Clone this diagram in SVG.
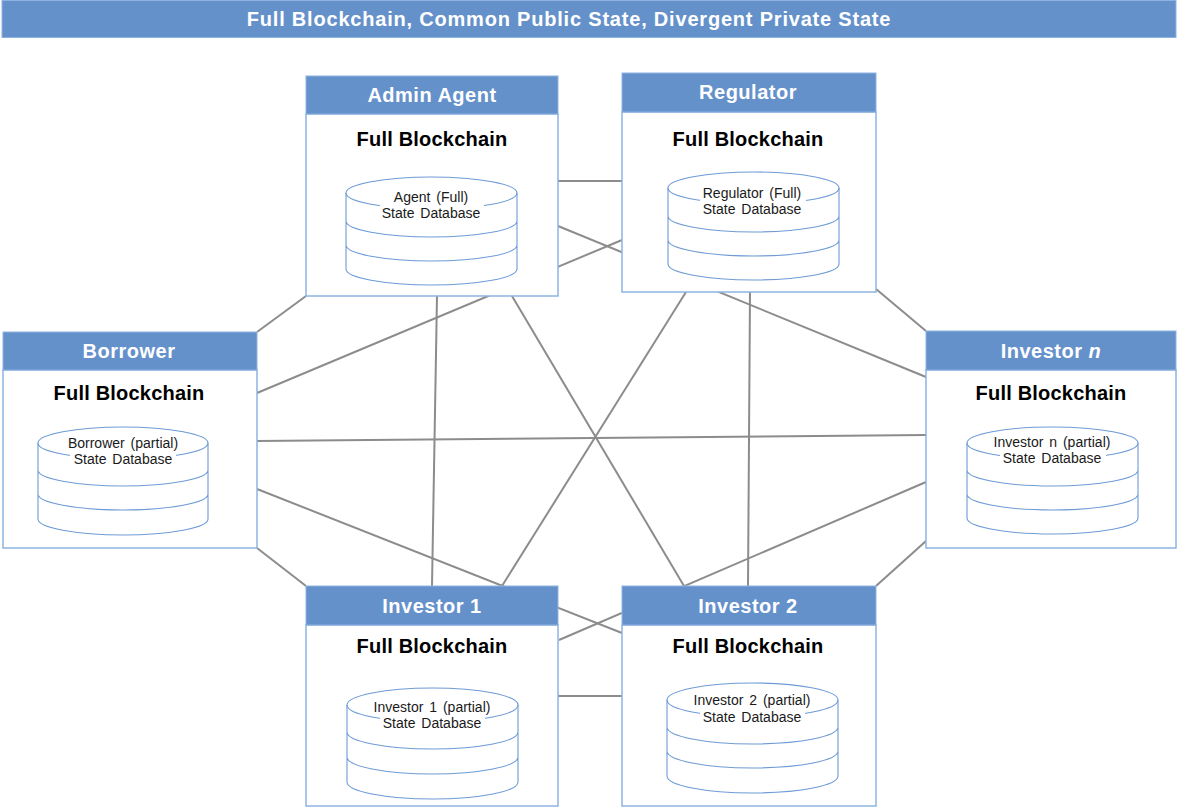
<svg xmlns="http://www.w3.org/2000/svg" width="1178" height="811" viewBox="0 0 1178 811">
<style>
.hdr{fill:#6591CB;stroke:#8DB3E2;stroke-width:1}
.body{fill:#fff;stroke:#8DB4E2;stroke-width:1.5}
.cyl{fill:none;stroke:#6E9BD6;stroke-width:1.1}
.gap{fill:#fff}
.ht{font-family:"Liberation Sans",Arial,sans-serif;font-weight:bold;font-size:20px;fill:#fff;text-anchor:middle;letter-spacing:0.5px}
.tt{letter-spacing:0.8px}
.fb{font-family:"Liberation Sans",Arial,sans-serif;font-weight:bold;font-size:20px;fill:#000;text-anchor:middle;letter-spacing:0.2px}
.dt{font-family:"Liberation Sans",Arial,sans-serif;font-size:14px;fill:#1a1a1a;text-anchor:middle;word-spacing:2px}
.conn line{stroke:#8C8C8C;stroke-width:2}
</style>
<rect x="2" y="0.5" width="1174" height="37" fill="#6591CB" stroke="#8DB3E2" stroke-width="1"/>
<text x="569" y="26" class="ht tt">Full Blockchain, Common Public State, Divergent Private State</text>
<g id="connectors" class="conn">
<line x1="558" y1="181" x2="622" y2="181"/>
<line x1="257" y1="332" x2="306" y2="296"/>
<line x1="437" y1="296" x2="432" y2="586"/>
<line x1="512" y1="296" x2="684" y2="586"/>
<line x1="558" y1="226" x2="926" y2="377"/>
<line x1="622" y1="240" x2="257" y2="393"/>
<line x1="686" y1="292" x2="502" y2="586"/>
<line x1="750" y1="292" x2="748" y2="586"/>
<line x1="876" y1="289" x2="926" y2="331"/>
<line x1="257" y1="548" x2="306" y2="586"/>
<line x1="257" y1="489" x2="622" y2="633"/>
<line x1="257" y1="441" x2="926" y2="435"/>
<line x1="558" y1="696" x2="622" y2="696"/>
<line x1="559" y1="640" x2="926" y2="482"/>
<line x1="876" y1="586" x2="926" y2="541"/>
</g>
<g id="admin">
<rect x="306" y="114" width="252" height="182" class="body"/>
<rect x="306" y="76" width="252" height="38" class="hdr"/>
<text x="432" y="102" class="ht">Admin Agent</text>
<text x="432" y="146" class="fb">Full Blockchain</text>
<ellipse cx="431.5" cy="193" rx="85.5" ry="16" class="cyl"/>
<path class="cyl" d="M346,193V269M517,193V269M346,221A85.5,16 0 0 0 517,221M346,245A85.5,16 0 0 0 517,245M346,269A85.5,16 0 0 0 517,269"/>
<rect x="380" y="204" width="104" height="18" class="gap"/>
<text x="431" y="202" class="dt">Agent (Full)</text>
<text x="431" y="218" class="dt">State Database</text>
</g>
<g id="regulator">
<rect x="622" y="112" width="254" height="180" class="body"/>
<rect x="622" y="73" width="254" height="39" class="hdr"/>
<text x="748" y="99" class="ht">Regulator</text>
<text x="748" y="146" class="fb">Full Blockchain</text>
<ellipse cx="753.5" cy="188" rx="85.5" ry="16" class="cyl"/>
<path class="cyl" d="M668,188V264M839,188V264M668,216A85.5,16 0 0 0 839,216M668,240A85.5,16 0 0 0 839,240M668,264A85.5,16 0 0 0 839,264"/>
<rect x="700" y="200" width="106" height="18" class="gap"/>
<text x="752" y="198" class="dt">Regulator (Full)</text>
<text x="752" y="214" class="dt">State Database</text>
</g>
<g id="borrower">
<rect x="3" y="370" width="254" height="178" class="body"/>
<rect x="3" y="332" width="254" height="38" class="hdr"/>
<text x="129" y="358" class="ht">Borrower</text>
<text x="129" y="400" class="fb">Full Blockchain</text>
<ellipse cx="123" cy="443" rx="85" ry="16" class="cyl"/>
<path class="cyl" d="M38,443V519M208,443V519M38,470A85,16 0 0 0 208,470M38,494A85,16 0 0 0 208,494M38,519A85,16 0 0 0 208,519"/>
<rect x="70" y="450" width="106" height="18" class="gap"/>
<text x="123" y="448" class="dt">Borrower (partial)</text>
<text x="123" y="464" class="dt">State Database</text>
</g>
<g id="investor-n">
<rect x="926" y="370" width="250" height="178" class="body"/>
<rect x="926" y="331" width="250" height="39" class="hdr"/>
<text x="1051" y="358" class="ht">Investor <tspan font-style="italic">n</tspan></text>
<text x="1051" y="400" class="fb">Full Blockchain</text>
<ellipse cx="1052.5" cy="443" rx="85.5" ry="16" class="cyl"/>
<path class="cyl" d="M967,443V518M1138,443V518M967,470A85.5,16 0 0 0 1138,470M967,494A85.5,16 0 0 0 1138,494M967,518A85.5,16 0 0 0 1138,518"/>
<rect x="1000" y="449" width="106" height="18" class="gap"/>
<text x="1052" y="447" class="dt">Investor n (partial)</text>
<text x="1052" y="463" class="dt">State Database</text>
</g>
<g id="investor-1">
<rect x="306" y="625" width="252" height="181" class="body"/>
<rect x="306" y="586" width="252" height="39" class="hdr"/>
<text x="432" y="613" class="ht">Investor 1</text>
<text x="432" y="653" class="fb">Full Blockchain</text>
<ellipse cx="432.5" cy="705" rx="85.5" ry="17" class="cyl"/>
<path class="cyl" d="M347,705V782M518,705V782M347,732A85.5,17 0 0 0 518,732M347,757A85.5,17 0 0 0 518,757M347,782A85.5,17 0 0 0 518,782"/>
<rect x="380" y="714" width="105" height="18" class="gap"/>
<text x="432" y="712" class="dt">Investor 1 (partial)</text>
<text x="432" y="728" class="dt">State Database</text>
</g>
<g id="investor-2">
<rect x="622" y="625" width="254" height="181" class="body"/>
<rect x="622" y="586" width="254" height="39" class="hdr"/>
<text x="748" y="613" class="ht">Investor 2</text>
<text x="748" y="653" class="fb">Full Blockchain</text>
<ellipse cx="752.5" cy="700" rx="85.5" ry="17" class="cyl"/>
<path class="cyl" d="M667,700V776M838,700V776M667,727A85.5,17 0 0 0 838,727M667,751A85.5,17 0 0 0 838,751M667,776A85.5,17 0 0 0 838,776"/>
<rect x="700" y="708" width="105" height="18" class="gap"/>
<text x="752" y="705" class="dt">Investor 2 (partial)</text>
<text x="752" y="722" class="dt">State Database</text>
</g>
</svg>
